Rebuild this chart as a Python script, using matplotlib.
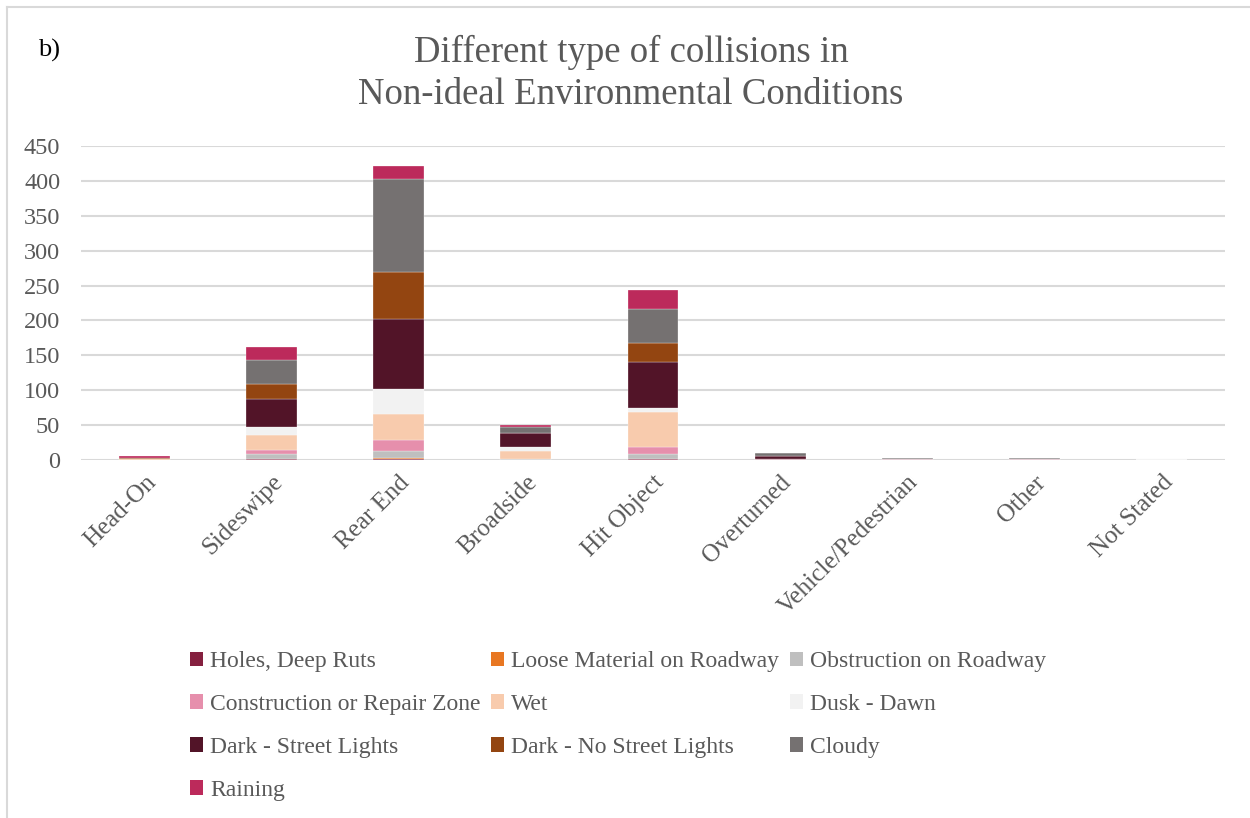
import matplotlib.pyplot as plt
import numpy as np
from matplotlib.lines import Line2D
from matplotlib.patches import Patch
from matplotlib.transforms import ScaledTranslation

# Collision types on the x axis
categories = ["Head-On", "Sideswipe", "Rear End", "Broadside", "Hit Object",
              "Overturned", "Vehicle/Pedestrian", "Other", "Not Stated"]

# Counts per environmental condition (stacked bottom to top)
holes = [0, 1, 2, 0, 1, 1, 1, 1, 0]
loose_material = [2, 0, 1, 0, 1, 0, 0, 0, 0]
obstruction = [0, 7, 10, 1, 6, 0, 0, 0, 0]
construction = [0, 7, 15, 0, 11, 0, 0, 0, 0]
wet = [0, 21, 38, 12, 50, 0, 0, 0, 0]
dusk_dawn = [0, 11, 36, 6, 5, 0, 0, 0, 0]
dark_street_lights = [0, 40, 100, 19, 67, 5, 0, 0, 0]
dark_no_street_lights = [1, 22, 68, 1, 26, 0, 0, 0, 0]
cloudy = [0, 34, 133, 8, 50, 4, 2, 2, 0]
raining = [3, 19, 19, 3, 27, 0, 0, 0, 0]

series_names = ["Holes, Deep Ruts", "Loose Material on Roadway", "Obstruction on Roadway",
                "Construction or Repair Zone", "Wet", "Dusk - Dawn",
                "Dark - Street Lights", "Dark - No Street Lights", "Cloudy", "Raining"]
series_values = [holes, loose_material, obstruction, construction, wet, dusk_dawn,
                 dark_street_lights, dark_no_street_lights, cloudy, raining]
colors = ["#85203f", "#e87722", "#bfbfbf", "#e68fac", "#f8cbad", "#f2f2f2",
          "#521428", "#934511", "#757171", "#bc2a5b"]

y_ticks = [0, 50, 100, 150, 200, 250, 300, 350, 400, 450]

text_grey = "#595959"
plt.rcParams["font.family"] = ["Liberation Serif", "DejaVu Serif"]

fig = plt.figure(figsize=(12.5, 8.18), dpi=100)
ax = fig.add_axes([81 / 1250, 1 - 460 / 818, (1225 - 81) / 1250, (460 - 146) / 818])

x = np.arange(len(categories))
bottom = np.zeros(len(categories))
handles = []
for name, vals, col in zip(series_names, series_values, colors):
    vals = np.array(vals, dtype=float)
    ax.bar(x, vals, width=0.4, bottom=bottom, color=col,
           edgecolor="white", linewidth=0.2, zorder=3)
    bottom += vals
    handles.append(Patch(facecolor=col, edgecolor="none"))

ax.set_xlim(-0.5, len(categories) - 0.5)
ax.set_ylim(0, 450)
ax.set_yticks(y_ticks)
ax.set_yticklabels([str(t) for t in y_ticks], fontsize=17.5, color=text_grey)
ax.set_xticks(x)
ax.set_xticklabels(categories, fontsize=18, color=text_grey, rotation=45,
                   ha="right", va="top", rotation_mode="anchor")
# nudge category labels a little to the right
shift = ScaledTranslation(6 / 100, 0, fig.dpi_scale_trans)
for lbl in ax.get_xticklabels():
    lbl.set_transform(lbl.get_transform() + shift)
ax.tick_params(axis="both", length=0)
ax.tick_params(axis="y", pad=15)
ax.tick_params(axis="x", pad=8)
ax.grid(axis="y", color="#d9d9d9", linewidth=1.5, zorder=0)
for s in ax.spines.values():
    s.set_visible(False)

# Title and panel tag
fig.text(631 / 1250, 1 - 52 / 818, "Different type of collisions in",
         ha="center", va="center", fontsize=26.5, color=text_grey)
fig.text(631 / 1250, 1 - 95 / 818, "Non-ideal Environmental Conditions",
         ha="center", va="center", fontsize=26.5, color=text_grey)
fig.text(38 / 1250, 1 - 50 / 818, "b)", ha="left", va="center", fontsize=19, color="black")

# Legend, filled row by row across three columns
order = [0, 3, 6, 9, 1, 4, 7, 2, 5, 8]
fig.legend([handles[i] for i in order], [series_names[i] for i in order],
           ncol=3, loc="upper left", bbox_to_anchor=(190 / 1250, 1 - 651 / 818),
           frameon=False, fontsize=17, labelcolor=text_grey,
           handlelength=0.55, handleheight=0.55, handletextpad=0.3,
           columnspacing=0.45, labelspacing=0.93, borderaxespad=0, borderpad=0)

# Chart frame
fig.add_artist(Line2D([7 / 1250, 7 / 1250], [0, 1 - 7 / 818], color="#d9d9d9",
                      linewidth=1.5, transform=fig.transFigure))
fig.add_artist(Line2D([7 / 1250, 1], [1 - 7 / 818, 1 - 7 / 818], color="#d9d9d9",
                      linewidth=1.5, transform=fig.transFigure))

fig.savefig("out.png", dpi=100, facecolor="white")
